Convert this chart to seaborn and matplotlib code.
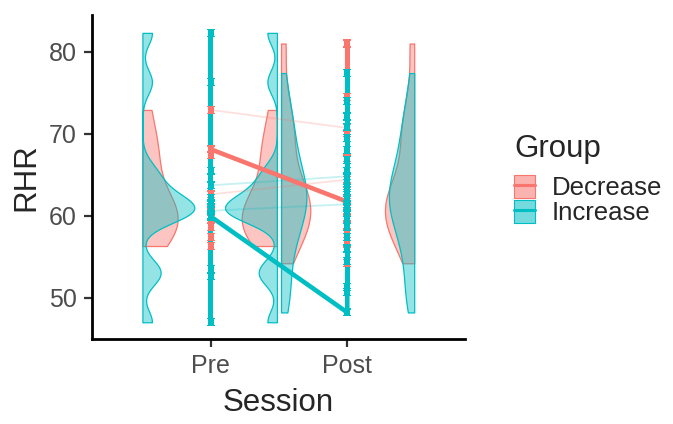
import numpy as np
import pandas as pd
import seaborn as sns
import matplotlib.pyplot as plt
from matplotlib.path import Path
from matplotlib.patches import Patch
from matplotlib.lines import Line2D
from matplotlib.colors import to_rgba

## DATA ##
sessions = ["Pre", "Post"]
groups = ["Decrease", "Increase"]

# RHR values per group / session in row order
# (last Pre row and first Post row of a group end up joined by the group line)
dec_pre = [72.9, 62.6, 67.4, 61.6, 60.4, 59.6, 58.6, 57.4, 56.3, 68.1]
dec_post = [61.7, 70.7, 64.4, 81.0, 74.5, 70.1, 67.0, 63.0, 62.0, 60.5, 59.8, 58.8,
            57.8, 56.6, 54.2]
inc_pre = [63.7, 60.6, 82.3, 76.3, 65.5, 62.2, 61.5, 61.0, 60.1, 53.5, 52.6, 47.0, 59.9]
inc_post = [48.2, 64.8, 61.4, 77.4, 74.0, 72.1, 70.8, 69.5, 68.0, 66.8, 65.5, 64.0,
            63.4, 62.8, 62.2, 61.0, 60.3, 59.5, 58.6, 57.4, 56.0, 54.5, 51.3, 50.7]

# subjects measured in both sessions
pair_group = ["Decrease", "Increase", "Decrease", "Increase"]
pair_pre = [72.9, 63.7, 62.6, 60.6]
pair_post = [70.7, 64.8, 64.4, 61.4]

pal = {"Decrease": "#F8766D", "Increase": "#00BFC4"}

values = {("Pre", "Decrease"): dec_pre, ("Post", "Decrease"): dec_post,
          ("Pre", "Increase"): inc_pre, ("Post", "Increase"): inc_post}
sess_x = {"Pre": 1, "Post": 2}

rows = []
for g in groups:
    for s in sessions:
        for v in values[(s, g)]:
            rows.append({"Group": g, "Session": s, "x": sess_x[s], "RHR": v})
df = pd.DataFrame(rows)

prs = []
for i, g in enumerate(pair_group):
    prs.append({"Subject": i, "Group": g, "x": 1, "RHR": pair_pre[i]})
    prs.append({"Subject": i, "Group": g, "x": 2, "RHR": pair_post[i]})
pairs = pd.DataFrame(prs)

## PLOT ##
sns.set_theme(style="ticks")
plt.rcParams["font.family"] = ["Liberation Sans", "DejaVu Sans"]

fig = plt.figure(figsize=(6.73, 4.24), dpi=100)
ax = fig.add_axes([92 / 673, 1 - 339 / 424, 373 / 673, 324 / 424])

# half violins (trimmed kde, common area scaling)
bw = {("Pre", "Decrease"): 3.0, ("Pre", "Increase"): 1.5,
      ("Post", "Decrease"): 3.0, ("Post", "Increase"): 3.0}
dens = {}
for key, v in values.items():
    v = np.asarray(v)
    grid = np.linspace(v.min(), v.max(), 400)
    d = np.exp(-0.5 * ((grid[:, None] - v[None, :]) / bw[key]) ** 2).sum(1)
    d = d / (len(v) * bw[key] * np.sqrt(2 * np.pi))
    dens[key] = (grid, d)
dmax = max(d.max() for _, d in dens.values())
half = 0.38

layers = [({"Pre": 0.5, "Post": 1.515}, 1), ({"Pre": 1.485, "Post": 2.49}, -1)]
for base, side in layers:
    for s in sessions:
        for g in groups:
            grid, d = dens[(s, g)]
            w = d / dmax * half
            ax.fill_betweenx(grid, base[s], base[s] + side * w,
                             facecolor=to_rgba(pal[g], 0.42), edgecolor=pal[g],
                             linewidth=0.9, zorder=1)

# subject lines
sns.lineplot(data=pairs, x="x", y="RHR", hue="Group", units="Subject", estimator=None,
             palette=pal, alpha=0.22, linewidth=1.3, legend=False, ax=ax)
# group lines through all rows
sns.lineplot(data=df, x="x", y="RHR", hue="Group", estimator=None, sort=False,
             palette=pal, linewidth=3.3, legend=False, ax=ax)

# I-beam marker for every row
ib = [(-3.5, 3.5), (3.5, 3.5), (3.5, 2.4), (2.5, 2.4), (2.5, -2.4), (3.5, -2.4),
      (3.5, -3.5), (-3.5, -3.5), (-3.5, -2.4), (-2.5, -2.4), (-2.5, 2.4), (-3.5, 2.4),
      (-3.5, 3.5)]
ibeam = Path(ib, closed=True)
sns.scatterplot(data=df, x="x", y="RHR", hue="Group", palette=pal, marker=ibeam, s=34,
                linewidth=0, edgecolor="face", legend=False, zorder=3, ax=ax)

ax.set_xlim(0.131, 2.862)
ax.set_ylim(44.96, 84.48)
ax.set_xticks([1, 2], sessions)
ax.set_yticks([50, 60, 70, 80])
ax.set_xlabel("Session", fontsize=22.5)
ax.set_ylabel("RHR", fontsize=22.5)
ax.xaxis.set_label_coords(0.5, -0.151)
ax.yaxis.set_label_coords(-0.135, 0.5)
ax.tick_params(labelsize=18, labelcolor="#4D4D4D", color="#333333",
               length=5.5, width=1.6, pad=5.3)
sns.despine(ax=ax)
for sp in ["left", "bottom"]:
    ax.spines[sp].set_color("black")
    ax.spines[sp].set_linewidth(2.0)

# legend
fig.text(514 / 673, 1 - 157 / 424, "Group", fontsize=22.5, va="baseline", ha="left")
handles = []
for g in groups:
    patch = Patch(facecolor=to_rgba(pal[g], 0.55), edgecolor=pal[g], linewidth=0.8)
    line = Line2D([], [], color=pal[g], lw=2.2)
    handles.append((patch, line))
fig.legend(handles, groups, loc="upper left",
           bbox_to_anchor=(514 / 673, 1 - 175 / 424), frameon=False,
           fontsize=18.5, handlelength=0.82, handleheight=0.98,
           labelspacing=0.0, handletextpad=0.65, borderpad=0, borderaxespad=0)

plt.savefig("out.png", dpi=100)
